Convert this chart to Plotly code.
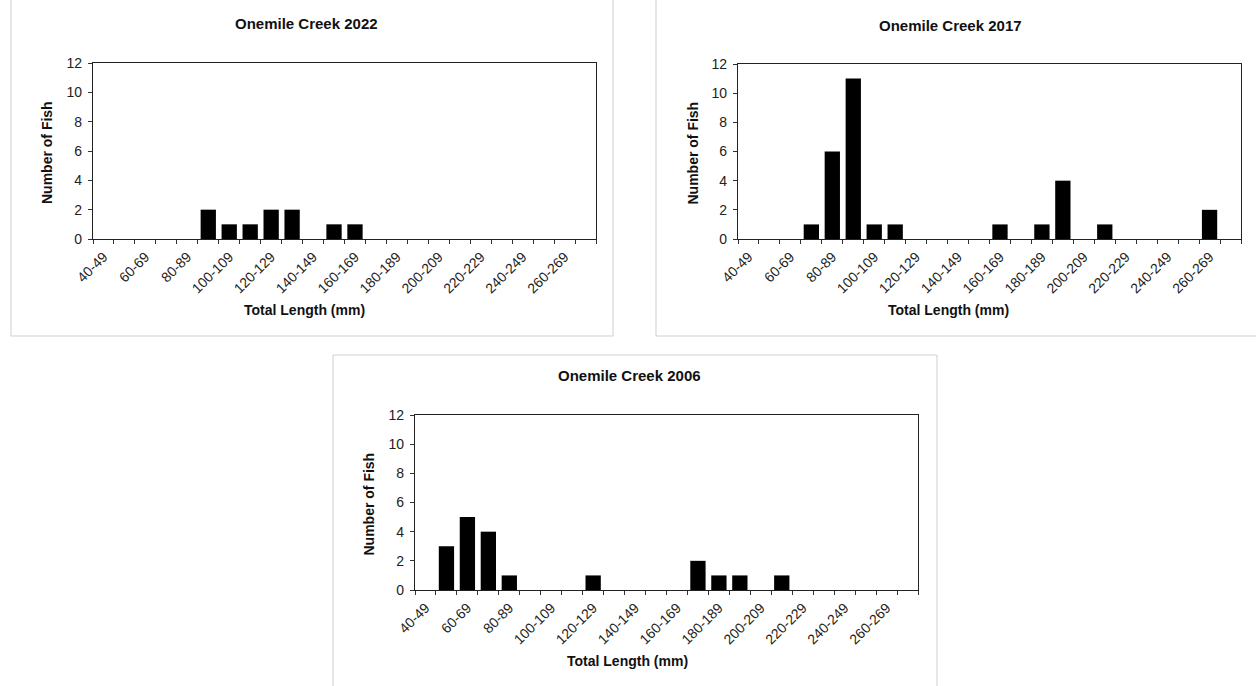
import plotly.graph_objects as go

W, H = 1256, 686

categories = ["40-49", "50-59", "60-69", "70-79", "80-89", "90-99", "100-109", "110-119",
              "120-129", "130-139", "140-149", "150-159", "160-169", "170-179", "180-189",
              "190-199", "200-209", "210-219", "220-229", "230-239", "240-249", "250-259",
              "260-269", "270-279"]
tick_labels = [c if i % 2 == 0 else "" for i, c in enumerate(categories)]

counts_2022 = [0, 0, 0, 0, 0, 2, 1, 1, 2, 2, 0, 1, 1, 0, 0, 0, 0, 0, 0, 0, 0, 0, 0, 0]
counts_2017 = [0, 0, 0, 1, 6, 11, 1, 1, 0, 0, 0, 0, 1, 0, 1, 4, 0, 1, 0, 0, 0, 0, 2, 0]
counts_2006 = [0, 3, 5, 4, 1, 0, 0, 0, 1, 0, 0, 0, 0, 2, 1, 1, 0, 1, 0, 0, 0, 0, 0, 0]

panel_titles = ["Onemile Creek 2022", "Onemile Creek 2017", "Onemile Creek 2006"]
series = [counts_2022, counts_2017, counts_2006]

# layout in pixels: plot box (x0, x1, y0_top, y1_bottom), panel border box
plot_boxes = [(93, 596, 63, 239), (738, 1241, 64, 239), (415, 918, 415, 590)]
border_boxes = [(11, 613, -5, 336), (656, 1262, -5, 336), (333, 937, 355, 692)]

def px(x):
    return x / W

def py(y):
    return 1 - y / H

FONT = "Liberation Sans, Arial, sans-serif"

fig = go.Figure()
layout_axes = {}
annotations = []
shapes = []

for i, (title, vals, pb, bb) in enumerate(zip(panel_titles, series, plot_boxes, border_boxes)):
    n = "" if i == 0 else str(i + 1)
    fig.add_trace(go.Bar(
        x=categories, y=vals,
        xaxis="x" + n, yaxis="y" + n,
        marker=dict(color="black", line=dict(width=0)),
        showlegend=False,
    ))
    x0, x1, yt, yb = pb
    layout_axes["xaxis" + n] = dict(
        domain=[px(x0), px(x1)], anchor="y" + n, automargin=False,
        type="category", categoryorder="array", categoryarray=categories,
        tickmode="array", tickvals=categories, ticktext=tick_labels,
        tickson="boundaries", ticks="outside", ticklen=4, tickcolor="#333333",
        tickangle=-45, ticklabelstandoff=3,
        tickfont=dict(family=FONT, size=14, color="#222222"),
        showline=True, linecolor="#222222", linewidth=1.3, mirror=True,
        showgrid=False, zeroline=False, range=[-0.5, 23.5],
    )
    layout_axes["yaxis" + n] = dict(
        domain=[py(yb), py(yt)], anchor="x" + n, automargin=False,
        range=[0, 12], tickmode="array", tickvals=[0, 2, 4, 6, 8, 10, 12],
        ticks="outside", ticklen=4, tickcolor="#333333", ticklabelstandoff=3,
        tickfont=dict(family=FONT, size=14, color="#222222"),
        showline=True, linecolor="#222222", linewidth=1.3, mirror=True,
        showgrid=False, zeroline=False,
    )
    cx = (bb[0] + min(bb[1], W)) / 2
    annotations.append(dict(
        text=title, x=px(cx - 6), y=py(yt - 39), xref="paper", yref="paper",
        xanchor="center", yanchor="middle", showarrow=False,
        font=dict(family=FONT, size=15, color="#111111", weight="bold"),
    ))
    annotations.append(dict(
        text="Total Length (mm)", x=px(cx - 8), y=py(yb + 71), xref="paper", yref="paper",
        xanchor="center", yanchor="middle", showarrow=False,
        font=dict(family=FONT, size=14, color="#111111", weight="bold"),
    ))
    annotations.append(dict(
        text="Number of Fish", x=px(x0 - 46), y=py((yt + yb) / 2 + 2), xref="paper", yref="paper",
        xanchor="center", yanchor="middle", showarrow=False, textangle=-90,
        font=dict(family=FONT, size=14, color="#111111", weight="bold"),
    ))
    shapes.append(dict(
        type="rect", xref="paper", yref="paper",
        x0=px(bb[0]), x1=px(bb[1]), y0=py(bb[3]), y1=py(bb[2]),
        line=dict(color="#cfcfcf", width=1), fillcolor="rgba(0,0,0,0)", layer="below",
    ))

fig.update_layout(
    width=W, height=H,
    margin=dict(l=0, r=0, t=0, b=0, autoexpand=False),
    paper_bgcolor="white", plot_bgcolor="white",
    bargap=0.27,
    annotations=annotations,
    shapes=shapes,
    **layout_axes,
)

fig.write_html("out.html")
